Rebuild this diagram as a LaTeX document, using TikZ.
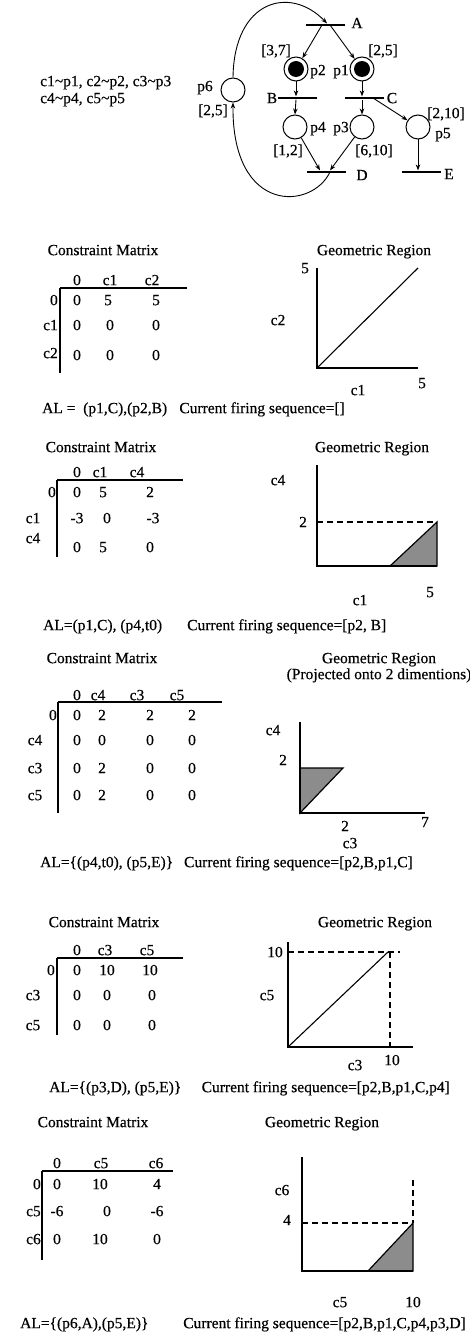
\documentclass[tikz,border=0pt]{standalone}
\usepackage{fontspec}
\setmainfont{Liberation Serif}[BoldFont=Liberation Serif,BoldFeatures={FakeBold=0.4}]
\usetikzlibrary{arrows.meta}
\newcommand\tx[4]{\node[lbl] (#1) at (#2,#3) {#4};}
\newcommand\tl[4]{\node[lbl,anchor=west] (#1) at (#2,#3) {#4};}
\newcommand\tr[4]{\node[lbl,anchor=east] (#1) at (#2,#3) {#4};}
\begin{document}
\begin{tikzpicture}[x=1pt,y=-1pt,
  lbl/.style={inner sep=0pt,text height=10.5pt,text depth=0.2pt,font=\fontsize{15.5}{18}\selectfont\bfseries},
  place/.style={circle,draw,line width=1pt,minimum size=24pt,inner sep=0pt},
  tbar/.style={fill=black,inner sep=0pt,minimum width=39pt,minimum height=2.8pt},
  arc/.style={line width=0.9pt,-{Stealth[length=6pt,width=4.5pt]}},
  mline/.style={line width=1.6pt},
  axis/.style={line width=1.9pt},
  dline/.style={line width=1.4pt,dash pattern=on 6pt off 4pt},
  shade/.style={fill=black!45,draw,line width=1.2pt},
  diag/.style={line width=1.1pt}]
\useasboundingbox (0,0) rectangle (469,1332);
% ---------- Petri net ----------
\tl{map1}{40}{81}{c1\textasciitilde p1, c2\textasciitilde p2, c3\textasciitilde p3}
\tl{map2}{40}{98}{c4\textasciitilde p4, c5\textasciitilde p5}
\node[tbar] (A) at (325,25) {};
\node[tbar] (B) at (297,98) {};
\node[tbar] (C) at (364,98) {};
\node[tbar] (D) at (326,172) {};
\node[tbar] (E) at (421,172) {};
\node[place] (p2) at (296,69) {};
\node[place] (p1) at (362,69) {};
\fill (p2) circle (8pt);
\fill (p1) circle (8pt);
\node[place] (p4) at (295,127) {};
\node[place] (p3) at (362,127) {};
\node[place] (p5) at (418,127) {};
\node[place] (p6) at (233,90) {};
\draw[arc] ([xshift=-3pt]A.center) -- (p2);
\draw[arc] ([xshift=5pt]A.center) -- (p1);
\draw[arc] (p2.south) -- (p2.south |- B.north);
\draw[arc] (p2.south |- B.south) -- (p4.north);
\draw[arc] (p1.south) -- (p1.south |- C.north);
\draw[arc] (p1.south |- C.south) -- (p3.north);
\draw[arc] ([xshift=9pt]C.center) -- (p5);
\draw[arc] (p4) -- ([xshift=-6pt]D.north);
\draw[arc] (p3) -- ([xshift=4pt]D.north);
\draw[arc] (p5.south) -- (p5.south |- E.north);
\draw[arc] (p6.north) .. controls (234,0) and (290,-15) .. ([xshift=2pt]A.north);
\draw[arc] ([xshift=4pt]D.center) .. controls (312,210) and (232,215) .. (p6.south);
\tx{lA}{357}{23}{A}
\tx{lB}{272}{98}{B}
\tx{lC}{392}{98}{C}
\tx{lD}{362}{175}{D}
\tx{lE}{449}{174}{E}
\tx{i2}{276}{50}{[3,7]}
\tx{i1}{383}{50}{[2,5]}
\tx{n2}{318}{70}{p2}
\tx{n1}{341}{70}{p1}
\tx{n4}{318}{127}{p4}
\tx{n3}{341}{127}{p3}
\tx{i5}{446}{113}{[2,10]}
\tx{n5}{443}{133}{p5}
\tx{i4}{288}{150}{[1,2]}
\tx{i3}{374}{150}{[6,10]}
\tx{n6}{205}{86}{p6}
\tx{i6}{213}{110}{[2,5]}
% ---------- Section 1 ----------
\tx{a0}{103}{250}{Constraint Matrix}
\tx{a1}{374}{250}{Geometric Region}
\tx{ah1}{77}{280}{0}\tx{ah2}{110}{280}{c1}\tx{ah3}{152}{280}{c2}
\draw[mline] (60,288) -- (187,288);
\draw[mline] (60,288) -- (60,373);
\tr{ar1}{58}{300}{0}\tr{ar2}{58}{325}{c1}\tr{ar3}{58}{353}{c2}
\tx{a11}{77}{300}{0}\tx{a12}{108}{300}{5}\tx{a13}{156}{300}{5}
\tx{a21}{77}{325}{0}\tx{a22}{110}{325}{0}\tx{a23}{156}{325}{0}
\tx{a31}{77}{355}{0}\tx{a32}{110}{355}{0}\tx{a33}{156}{355}{0}
\draw[axis] (317,268) -- (317,368) -- (418,368);
\draw[diag] (317,368) -- (418,268);
\tx{ay}{305}{268}{5}\tx{ayl}{278}{320}{c2}\tx{axl}{358}{390}{c1}\tx{ax}{422}{383}{5}
\tl{aAL}{42}{408}{AL =\ \ (p1,C),(p2,B)}
\tr{aCur}{345}{408}{Current firing sequence=[]}
% ---------- Section 2 ----------
\tx{b0}{101}{447}{Constraint Matrix}
\tx{b1}{372}{447}{Geometric Region}
\tx{bh1}{77}{472}{0}\tx{bh2}{100}{472}{c1}\tx{bh3}{137}{472}{c4}
\draw[mline] (57,480) -- (183,480);
\draw[mline] (57,480) -- (57,557);
\tr{br1}{56}{492}{0}\tx{br2}{33}{518}{c1}\tx{br3}{33}{538}{c4}
\tx{b11}{77}{492}{0}\tx{b12}{103}{492}{5}\tx{b13}{150}{492}{2}
\tx{b21}{77}{518}{-3}\tx{b22}{107}{518}{0}\tx{b23}{153}{518}{-3}
\tx{b31}{77}{547}{0}\tx{b32}{103}{547}{5}\tx{b33}{150}{547}{0}
\draw[dline] (317,522) -- (437,522);
\draw[shade] (390,566) -- (437,566) -- (437,522) -- cycle;
\draw[axis] (317,465) -- (317,566) -- (437,566);
\tx{byl}{278}{480}{c4}\tx{by}{303}{522}{2}\tx{bxl}{360}{600}{c1}\tx{bx}{430}{592}{5}
\tl{bAL}{43}{625}{AL=(p1,C), (p4,t0)}
\tl{bCur}{187}{625}{Current firing sequence=[p2, B]}
% ---------- Section 3 ----------
\tx{c0}{102}{658}{Constraint Matrix}
\tx{c1}{379}{658}{Geometric Region}
\tx{c2}{379}{674}{(Projected onto 2 dimentions)}
\tx{ch1}{77}{695}{0}\tx{ch2}{98}{695}{c4}\tx{ch3}{137}{695}{c3}\tx{ch4}{177}{695}{c5}
\draw[mline] (58,702) -- (222,702);
\draw[mline] (58,702) -- (58,813);
\tr{cr1}{57}{715}{0}\tx{cr2}{35}{740}{c4}\tx{cr3}{35}{768}{c3}\tx{cr4}{35}{795}{c5}
\tx{c11}{77}{715}{0}\tx{c12}{102}{715}{2}\tx{c13}{150}{715}{2}\tx{c14}{192}{715}{2}
\tx{c21}{77}{740}{0}\tx{c22}{102}{740}{0}\tx{c23}{150}{740}{0}\tx{c24}{192}{740}{0}
\tx{c31}{77}{768}{0}\tx{c32}{102}{768}{2}\tx{c33}{150}{768}{0}\tx{c34}{192}{768}{0}
\tx{c41}{77}{795}{0}\tx{c42}{102}{795}{2}\tx{c43}{150}{795}{0}\tx{c44}{192}{795}{0}
\draw[shade] (300,813) -- (300,768) -- (343,768) -- cycle;
\draw[axis] (300,722) -- (300,813) -- (425,813);
\tx{cyl}{273}{730}{c4}\tx{cy}{283}{760}{2}\tx{cx}{345}{826}{2}\tx{cx7}{425}{822}{7}\tx{cxl}{350}{843}{c3}
\tl{cAL}{40}{862}{AL=\{(p4,t0), (p5,E)\}}
\tr{cCur}{413}{862}{Current firing sequence=[p2,B,p1,C]}
% ---------- Section 4 ----------
\tx{d0}{104}{922}{Constraint Matrix}
\tx{d1}{375}{922}{Geometric Region}
\tx{dh1}{77}{950}{0}\tx{dh2}{105}{950}{c3}\tx{dh3}{147}{950}{c5}
\draw[mline] (57,958) -- (183,958);
\draw[mline] (57,958) -- (57,1035);
\tr{dr1}{55}{970}{0}\tx{dr2}{33}{995}{c3}\tx{dr3}{33}{1025}{c5}
\tx{d11}{77}{970}{0}\tx{d12}{107}{970}{10}\tx{d13}{150}{970}{10}
\tx{d21}{77}{995}{0}\tx{d22}{107}{995}{0}\tx{d23}{152}{995}{0}
\tx{d31}{77}{1025}{0}\tx{d32}{107}{1025}{0}\tx{d33}{152}{1025}{0}
\draw[dline] (288,952) -- (400,952);
\draw[dline] (390,952) -- (390,1047);
\draw[diag] (288,1047) -- (388,952);
\draw[axis] (288,942) -- (288,1047) -- (413,1047);
\tx{dy}{275}{952}{10}\tx{dyl}{267}{995}{c5}\tx{dxl}{355}{1065}{c3}\tx{dx}{392}{1060}{10}
\tl{dAL}{49}{1087}{AL=\{(p3,D), (p5,E)\}}
\tr{dCur}{450}{1087}{Current firing sequence=[p2,B,p1,C,p4]}
% ---------- Section 5 ----------
\tx{e0}{93}{1122}{Constraint Matrix}
\tx{e1}{322}{1122}{Geometric Region}
\tx{eh1}{57}{1163}{0}\tx{eh2}{101}{1163}{c5}\tx{eh3}{156}{1163}{c6}
\draw[mline] (42,1171) -- (173,1171);
\draw[mline] (42,1171) -- (42,1260);
\tr{er1}{41}{1184}{0}\tr{er2}{41}{1211}{c5}\tr{er3}{41}{1239}{c6}
\tx{e11}{57}{1184}{0}\tx{e12}{100}{1184}{10}\tx{e13}{157}{1184}{4}
\tx{e21}{57}{1211}{-6}\tx{e22}{107}{1211}{0}\tx{e23}{157}{1211}{-6}
\tx{e31}{57}{1239}{0}\tx{e32}{100}{1239}{10}\tx{e33}{157}{1239}{0}
\draw[dline] (302,1223) -- (413,1223);
\draw[dline] (413,1180) -- (413,1223);
\draw[shade] (368,1271) -- (413,1271) -- (413,1223) -- cycle;
\draw[axis] (302,1157) -- (302,1271) -- (413,1271);
\tx{eyl}{282}{1190}{c6}\tx{ey}{287}{1220}{4}\tx{exl}{340}{1302}{c5}\tx{ex}{413}{1302}{10}
\tl{eAL}{20}{1323}{AL=\{(p6,A),(p5,E)\}}
\tr{eCur}{466}{1323}{Current firing sequence=[p2,B,p1,C,p4,p3,D]}
\end{tikzpicture}
\end{document}
